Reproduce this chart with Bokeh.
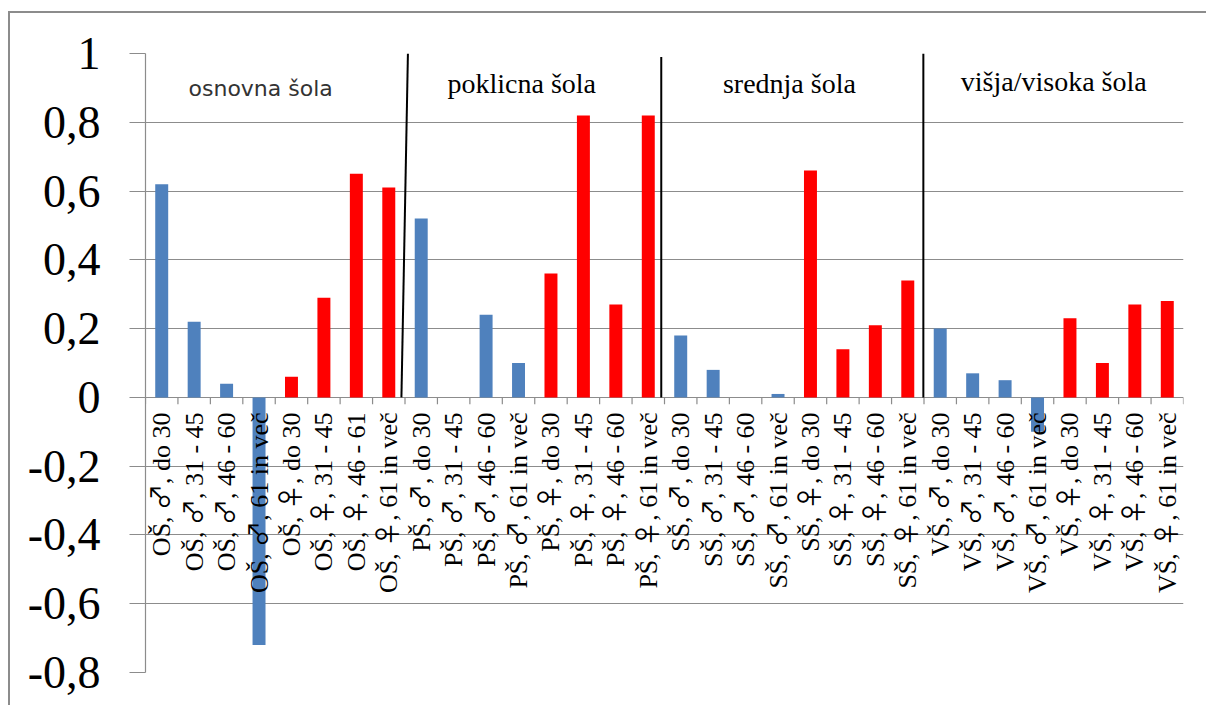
import math
from bokeh.plotting import figure
from bokeh.models import Range1d, FixedTicker, ColumnDataSource
from bokeh.core.properties import value
from bokeh.embed import file_html
from bokeh.resources import INLINE

# ---------------- data ----------------
categories = [
    "OŠ, ♂, do 30", "OŠ, ♂, 31 - 45", "OŠ, ♂, 46 - 60", "OŠ, ♂, 61 in več",
    "OŠ, ♀, do 30", "OŠ, ♀, 31 - 45", "OŠ, ♀, 46 - 61", "OŠ, ♀, 61 in več",
    "PŠ, ♂, do 30", "PŠ, ♂, 31 - 45", "PŠ, ♂, 46 - 60", "PŠ, ♂, 61 in več",
    "PŠ, ♀, do 30", "PŠ, ♀, 31 - 45", "PŠ, ♀, 46 - 60", "PŠ, ♀, 61 in več",
    "SŠ, ♂, do 30", "SŠ, ♂, 31 - 45", "SŠ, ♂, 46 - 60", "SŠ, ♂, 61 in več",
    "SŠ, ♀, do 30", "SŠ, ♀, 31 - 45", "SŠ, ♀, 46 - 60", "SŠ, ♀, 61 in več",
    "VŠ, ♂, do 30", "VŠ, ♂, 31 - 45", "VŠ, ♂, 46 - 60", "VŠ, ♂, 61 in več",
    "VŠ, ♀, do 30", "VŠ, ♀, 31 - 45", "VŠ, ♀, 46 - 60", "VŠ, ♀, 61 in več",
]
sex = (["m"] * 4 + ["f"] * 4) * 4
values = [
    0.62, 0.22, 0.04, -0.72, 0.06, 0.29, 0.65, 0.61,
    0.52, 0.00, 0.24, 0.10, 0.36, 0.82, 0.27, 0.82,
    0.18, 0.08, 0.00, 0.01, 0.66, 0.14, 0.21, 0.34,
    0.20, 0.07, 0.05, -0.10, 0.23, 0.10, 0.27, 0.28,
]
groups = ["osnovna šola", "poklicna šola", "srednja šola", "višja/visoka šola"]
y_ticks = [-0.8, -0.6, -0.4, -0.2, 0, 0.2, 0.4, 0.6, 0.8, 1]
y_tick_labels = ["-0,8", "-0,6", "-0,4", "-0,2", "0", "0,2", "0,4", "0,6", "0,8", "1"]

# ---------------- styling ----------------
BLUE = "#4F81BD"
RED = "#FF0000"
GRID = "#8c8c8c"

n = len(categories)
xs = [i + 0.5 for i in range(n)]
colors = [BLUE if s == "m" else RED for s in sex]
src = ColumnDataSource(dict(x=xs, top=values, color=colors, label=categories))

p = figure(width=1198, height=694, output_backend="svg", toolbar_location=None,
           x_range=Range1d(0, n), y_range=Range1d(-0.8, 1.0),
           x_axis_type=None, min_border_left=135, min_border_right=25,
           min_border_top=40, min_border_bottom=35)
p.styles = {"border-left": "2px solid #8c8c8c", "border-top": "2px solid #8c8c8c",
            "margin-top": "11px", "margin-left": "8px"}
p.outline_line_color = None
p.background_fill_color = "white"
p.border_fill_color = "white"

p.xgrid.visible = False
p.ygrid.ticker = FixedTicker(ticks=y_ticks)
p.ygrid.grid_line_color = GRID
p.ygrid.grid_line_width = 1.2

ax = p.yaxis[0]
ax.ticker = FixedTicker(ticks=y_ticks)
ax.major_label_overrides = {t: l for t, l in zip(y_ticks, y_tick_labels)}
ax.major_label_text_font = "Liberation Serif"
ax.major_label_text_font_size = "46px"
ax.major_label_text_color = "black"
ax.major_label_standoff = 29
ax.major_tick_out = 16
ax.major_tick_in = 0
ax.minor_tick_line_color = None
ax.axis_line_color = GRID
ax.axis_line_width = 1.2
ax.major_tick_line_color = GRID
ax.major_tick_line_width = 1.2

# bars
p.vbar(x="x", top="top", bottom=0, width=0.4, color="color", line_color=None, source=src)

# small category ticks at the zero line
p.segment(x0=list(range(n + 1)), y0=[0] * (n + 1), x1=list(range(n + 1)),
          y1=[-0.02] * (n + 1), line_color=GRID, line_width=1.2)

# group separators
p.segment(x0=[8.09, 15.9, 23.98], y0=[1.0, 0.99, 1.0], x1=[7.89, 15.9, 23.98],
          y1=[0, 0, 0], line_color="black", line_width=2)

# category labels (vertical, hanging below zero line)
p.text(x="x", y=0, text="label", source=src, angle=math.pi / 2,
       text_align="right", text_baseline="middle", y_offset=15,
       text_font=value("SerifSym, 'Liberation Serif'"), text_font_size="26px",
       text_color="black")

# group titles
p.text(x=[3.55], y=[0.898], text=[groups[0]], text_align="center",
       text_baseline="alphabetic", text_font=value("DejaVu Sans"),
       text_font_size="22px", text_color="#333333")
p.text(x=[11.6, 19.85, 28.0], y=[0.912, 0.912, 0.918], text=groups[1:],
       text_align="center", text_baseline="alphabetic",
       text_font=value("Liberation Serif"), text_font_size="28px", text_color="black")

html = file_html(p, INLINE)
font_face = ("<style>@font-face{font-family:'SerifSym';"
             "src:local('Noto Sans CJK JP'),local('Noto Sans CJK JP Regular'),"
             "local('NotoSansCJKjp-Regular'),local('DejaVu Sans');"
             "unicode-range:U+2640-2642;} body{overflow:hidden;}</style>")
html = html.replace("</head>", font_face + "</head>", 1)
open("out.html", "w").write(html)
